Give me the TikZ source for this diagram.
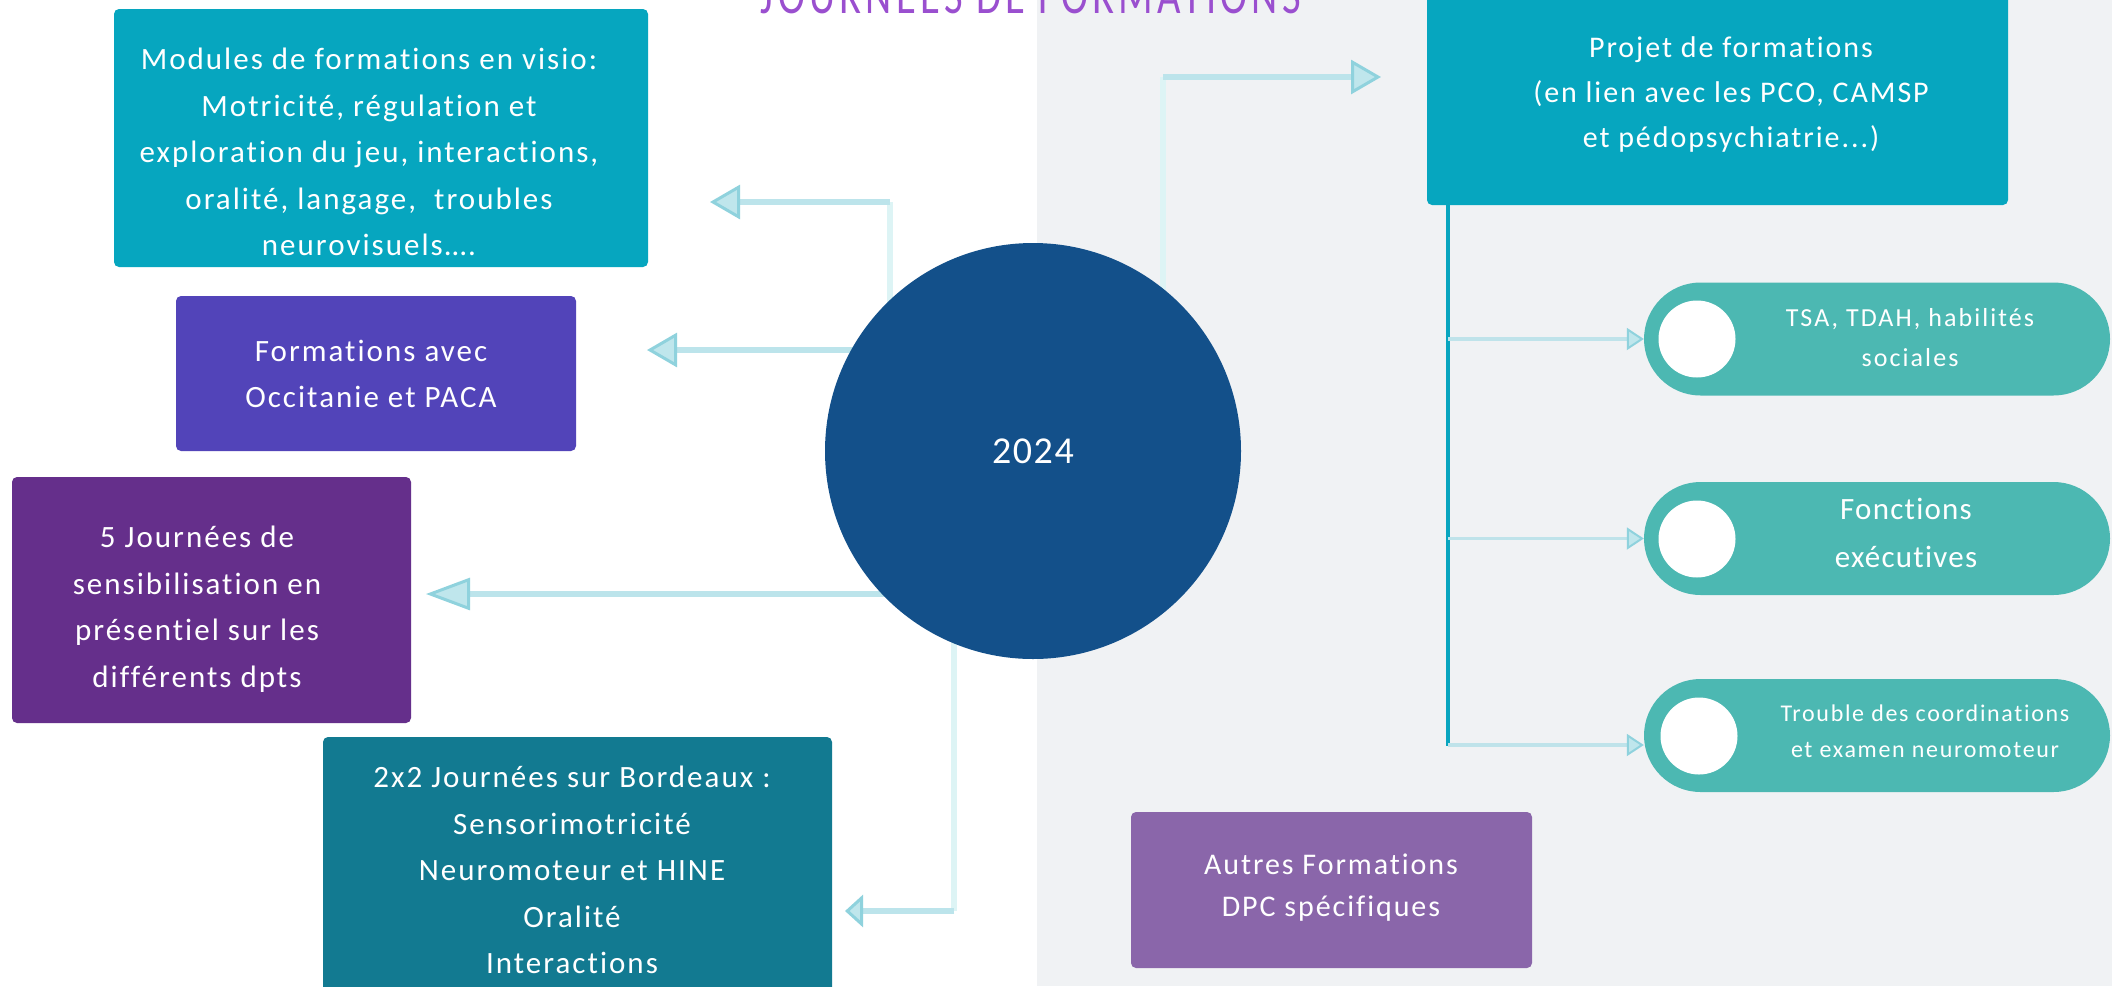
\documentclass[tikz,border=0pt]{standalone}
\usepackage{fontspec}
\setmainfont{Carlito}[Ligatures=NoCommon]
\newfontfamily\boxfont{Carlito}[LetterSpace=6.5,Ligatures=NoCommon]
\newfontfamily\pillfontA{Carlito}[LetterSpace=8,Ligatures=NoCommon]
\newfontfamily\pillfontB{Carlito}[LetterSpace=4,Ligatures=NoCommon]
\newfontfamily\pillfontC{Carlito}[LetterSpace=7,Ligatures=NoCommon]
\newfontfamily\circfont{Carlito}[LetterSpace=4]
\newfontfamily\titlefont{Carlito}[FakeStretch=0.75,LetterSpace=8]
\usetikzlibrary{arrows.meta,shapes.misc}
\definecolor{bggrey}{HTML}{F0F2F4}
\definecolor{cyanbox}{HTML}{06A6BF}
\definecolor{violetbox}{HTML}{5244B9}
\definecolor{plumbox}{HTML}{652F8B}
\definecolor{petrolbox}{HTML}{127A91}
\definecolor{lilacbox}{HTML}{8A66AA}
\definecolor{circc}{HTML}{13508A}
\definecolor{pillc}{HTML}{4CB8B2}
\definecolor{titlec}{HTML}{9A4FCF}
\definecolor{hlinec}{HTML}{BCE4EB}
\definecolor{vlinec}{HTML}{DDF4F5}
\definecolor{headc}{HTML}{8FD2DD}
\definecolor{headf}{HTML}{BFE6EC}
\definecolor{trunkc}{HTML}{08A5BF}
\definecolor{branchc}{HTML}{BFE3EA}
\tikzset{
  boxnode/.style={rectangle, rounded corners=5pt, inner sep=0pt, draw=none},
  txt/.style={text=white, align=center, inner sep=0pt, font=\boxfont\fontsize{31}{46.5}\selectfont},
  pillnode/.style={rounded rectangle, fill=pillc, minimum width=466pt, minimum height=113pt, inner sep=0pt},
  dotnode/.style={circle, fill=white, minimum size=77pt, inner sep=0pt},
  hln/.style={line width=6pt, draw=hlinec},
  vln/.style={line width=6pt, draw=vlinec},
  bigtip/.style={-{Triangle[length=30pt,width=34pt,line width=3pt,color=headc,fill=headf]}},
  longtip/.style={-{Triangle[length=44pt,width=32pt,line width=3pt,color=headc,fill=headf]}},
  shorttip/.style={-{Triangle[length=18pt,width=32pt,line width=3pt,color=headc,fill=headf]}},
  smalltip/.style={-{Triangle[length=17pt,width=22pt,line width=2pt,color=headc,fill=headf]}},
  trunkline/.style={line width=4pt, draw=trunkc},
  branchline/.style={line width=3.5pt, draw=branchc}
}
\begin{document}
\begin{tikzpicture}[x=1pt,y=-1pt]
\useasboundingbox (0,0) rectangle (2112,986);
\begin{scope}
\clip (0,0) rectangle (2112,986);
\fill[white] (0,0) rectangle (2112,986);
\fill[bggrey] (1037,0) rectangle (2112,986);

% title
\node[anchor=base, inner sep=0pt, text=titlec, font=\titlefont\fontsize{54}{60}\selectfont] (ttl) at (1031,13) {JOURNÉES DE FORMATIONS};

% connectors from the centre circle
\coordinate (aA0) at (890,330);
\coordinate (aA1) at (890,202);
\coordinate (aAt) at (710,202);
\coordinate (aB0) at (900,350);
\coordinate (aBt) at (647,350);
\coordinate (aC0) at (920,594);
\coordinate (aCt) at (426,594);
\coordinate (aD0) at (954,620);
\coordinate (aD1) at (954,911);
\coordinate (aDt) at (845,911);
\coordinate (aE0) at (1163,330);
\coordinate (aE1) at (1163,77);
\coordinate (aEt) at (1381,77);
\draw[vln] (aA0) -- (aA1);
\draw[hln, bigtip] (aA1) -- (aAt);
\draw[hln, bigtip] (aB0) -- (aBt);
\draw[hln, longtip] (aC0) -- (aCt);
\draw[vln] (aD0) -- (aD1);
\draw[hln, shorttip] (aD1) -- (aDt);
\draw[vln] (aE0) -- (aE1);
\draw[hln, bigtip] (aE1) -- (aEt);

% centre circle
\node[circle, fill=circc, minimum size=416pt, inner sep=0pt, text=white, font=\circfont\fontsize{38}{40}\selectfont] (circ) at (1033,451) {2024};

% left boxes
\node[boxnode, fill=cyanbox, minimum width=534pt, minimum height=258pt] (b1) at (381,138) {};
\node[txt] (b1t) at (369,152) {Modules de formations en visio:\\Motricité, régulation et\\exploration du jeu, interactions,\\oralité, langage,~ troubles\\neurovisuels….};

\node[boxnode, fill=violetbox, minimum width=400pt, minimum height=155pt] (b2) at (376,373.5) {};
\node[txt] (b2t) at (371,374) {Formations avec\\Occitanie et PACA};

\node[boxnode, fill=plumbox, minimum width=399pt, minimum height=246pt] (b3) at (211.5,600) {};
\node[txt] (b3t) at (197,609) {5 Journées de\\sensibilisation en\\présentiel sur les\\différents dpts};

\node[boxnode, fill=petrolbox, minimum width=509pt, minimum height=273pt] (b4) at (577.5,873.5) {};
\node[txt] (b4t) at (572,870) {2x2 Journées sur Bordeaux :\\Sensorimotricité\\Neuromoteur et HINE\\Oralité\\Interactions};

% right side
\node[boxnode, fill=cyanbox, minimum width=581pt, minimum height=225pt] (proj) at (1717.5,92.5) {};
\node[txt, font=\boxfont\fontsize{30}{45}\selectfont] (projt) at (1731,94.5) {Projet de formations\\(en lien avec les PCO, CAMSP\\et pédopsychiatrie...)};

\node[boxnode, fill=lilacbox, minimum width=401pt, minimum height=156pt] (b5) at (1331.5,890) {};
\node[txt, font=\boxfont\fontsize{30}{42}\selectfont] (b5t) at (1331,887.5) {Autres Formations\\DPC spécifiques};

\node[pillnode] (p1) at (1877,339) {};
\node[pillnode] (p2) at (1877,538.5) {};
\node[pillnode] (p3) at (1877,735.5) {};
\node[dotnode] (d1) at (1697,339) {};
\node[dotnode] (d2) at (1697,539) {};
\node[dotnode] (d3) at (1699,736) {};
\node[txt, font=\pillfontA\fontsize{26}{40}\selectfont] (p1t) at (1910,337.5) {TSA, TDAH, habilités\\sociales};
\node[txt, font=\pillfontB\fontsize{31}{48}\selectfont] (p2t) at (1906,532.5) {Fonctions\\exécutives};
\node[txt, font=\pillfontC\fontsize{24}{36}\selectfont] (p3t) at (1925,731.5) {Trouble des coordinations\\et examen neuromoteur};

\coordinate (tr0) at (1448,203);
\coordinate (tr1) at (1448,746);
\coordinate (br3) at (1448,745);
\draw[trunkline] (tr0) -- (tr1);
\draw[branchline, smalltip] (tr0 |- p1.west) -- (p1.west);
\draw[branchline, smalltip] (tr0 |- p2.west) -- (p2.west);
\draw[branchline, smalltip] (br3) -- (br3 -| p3.west);
\end{scope}
\end{tikzpicture}
\end{document}
